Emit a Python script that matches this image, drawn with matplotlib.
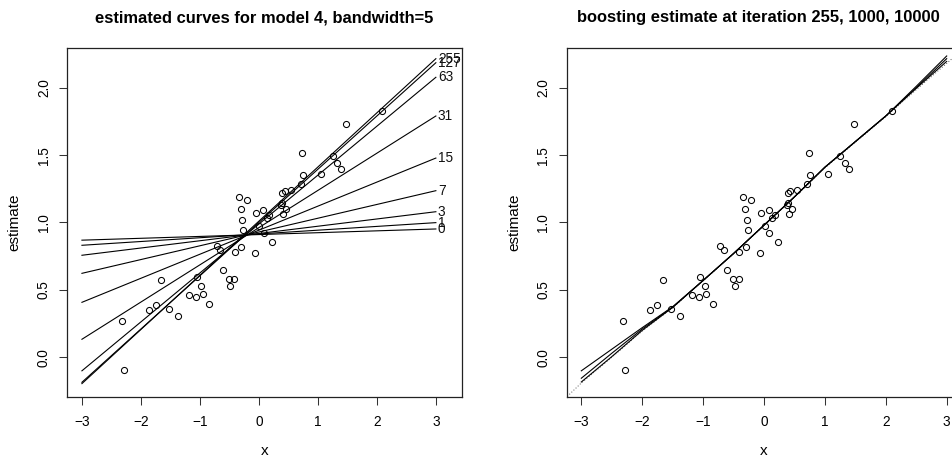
import matplotlib
matplotlib.use("Agg")
import matplotlib.pyplot as plt

plt.rcParams['font.family'] = ['Liberation Sans', 'DejaVu Sans']

# observed data (same in both panels)
x_obs = [-2.323, -2.279, -1.662, -1.865, -1.750, -1.521, -1.373, -1.187, -1.072, -1.046,
         -0.975, -0.947, -0.838, -0.718, -0.658, -0.603, -0.510, -0.417, -0.483, -0.407,
         -0.297, -0.270, -0.286, -0.309, -0.341, -0.210, -0.073, -0.046, 0.009, 0.075,
         0.080, 0.134, 0.173, 0.227, 0.374, 0.396, 0.412, 0.461, 0.396, 0.435,
         0.538, 0.713, 0.735, 0.756, 1.051, 1.248, 1.330, 1.390, 1.472, 2.094]
y_obs = [0.267, -0.094, 0.574, 0.352, 0.386, 0.359, 0.307, 0.465, 0.445, 0.596,
         0.527, 0.472, 0.393, 0.829, 0.794, 0.645, 0.579, 0.579, 0.527, 0.779,
         0.821, 0.942, 1.021, 1.103, 1.187, 1.165, 0.777, 1.068, 0.977, 1.096,
         0.920, 1.036, 1.053, 0.858, 1.128, 1.143, 1.064, 1.103, 1.217, 1.231,
         1.244, 1.284, 1.519, 1.355, 1.358, 1.491, 1.442, 1.395, 1.729, 1.828]

# left panel: linear estimates at selected iterations (values at x=-3 and x=3)
iterations = [0, 1, 3, 7, 15, 31, 63, 127, 255]
line_x = [-3, 3]
est_at_left = [0.869, 0.831, 0.757, 0.623, 0.408, 0.134, -0.100, -0.185, -0.195]
est_at_right = [0.952, 0.999, 1.080, 1.236, 1.478, 1.790, 2.077, 2.185, 2.215]

# right panel: boosting estimates at iterations 255, 1000, 10000
curve_x = [-3, -2.5, -2, -1.5, -1, -0.5, 0, 0.5, 1, 1.5, 2, 2.5, 3]
est_255 = [-0.100, 0.060, 0.220, 0.375, 0.570, 0.770, 0.980, 1.190, 1.410, 1.600, 1.790, 2.010, 2.235]
est_1000 = [-0.155, 0.030, 0.210, 0.372, 0.570, 0.770, 0.980, 1.190, 1.410, 1.600, 1.790, 2.000, 2.215]
est_10000 = [-0.183, 0.005, 0.200, 0.370, 0.570, 0.770, 0.980, 1.190, 1.410, 1.600, 1.790, 1.995, 2.195]
# dotted reference curve
true_x = [-3.3, -3, -2.5, -2, -1.5, -1, -0.5, 0, 0.5, 1, 1.5, 2, 2.5, 3, 3.3]
true_y = [-0.320, -0.190, 0.000, 0.195, 0.368, 0.568, 0.768, 0.978, 1.188, 1.405, 1.595, 1.785, 1.985, 2.180, 2.300]

yticks = [0.0, 0.5, 1.0, 1.5, 2.0]
xticks = [-3, -2, -1, 0, 1, 2, 3]

W, H = 953, 457
fig = plt.figure(figsize=(W / 100, H / 100), dpi=100)

FS = 9.8
LFS = 11.0
TFS = 11.9

def px_axes(x0, x1, y0, y1):
    return fig.add_axes([x0 / W, 1 - y1 / H, (x1 - x0) / W, (y1 - y0) / H])

def style(ax, xlim):
    ax.set_xlim(*xlim)
    ax.set_ylim(-0.292, 2.292)
    ax.set_xticks(xticks)
    ax.set_xticklabels([("\u2212%d" % -t) if t < 0 else str(t) for t in xticks], fontsize=FS)
    ax.set_yticks(yticks)
    ax.set_yticklabels(["%.1f" % t for t in yticks], fontsize=FS, rotation=90, va='center')
    ax.tick_params(direction='out', length=5.8, width=0.75, color='#333333')
    ax.tick_params(axis='x', pad=7.5)
    ax.tick_params(axis='y', pad=6)
    for s in ax.spines.values():
        s.set_linewidth(0.9)
        s.set_color('#222222')
    ax.set_xlabel('x', fontsize=LFS, labelpad=11)
    ax.set_ylabel('estimate', fontsize=LFS, labelpad=11)

# left panel
ax1 = px_axes(67.3, 462.3, 48.3, 396.7)
for it, yl, yr in zip(iterations, est_at_left, est_at_right):
    ax1.plot(line_x, [yl, yr], color='black', lw=0.8)
    ax1.annotate(str(it), xy=(line_x[1], yr), xytext=(1.5, 0), textcoords='offset points',
                 ha='left', va='center', fontsize=FS, color='#111111')
ax1.plot(x_obs, y_obs, linestyle='none', marker='o', markersize=4.4,
         markerfacecolor='none', markeredgecolor='black', markeredgewidth=0.75)
style(ax1, (-3.248, 3.448))

# right panel (extends beyond the right edge of the image)
ax2 = px_axes(566.7, 961.3, 48.3, 396.7)
ax2.plot(true_x, true_y, color='#555555', lw=0.7, linestyle=(0, (1, 2)))
for ys in (est_255, est_1000, est_10000):
    ax2.plot(curve_x, ys, color='black', lw=0.8)
ax2.plot(x_obs, y_obs, linestyle='none', marker='o', markersize=4.4,
         markerfacecolor='none', markeredgecolor='black', markeredgewidth=0.75)
style(ax2, (-3.24, 3.24))

fig.text(264.5 / W, 1 - 22.3 / H, 'estimated curves for model 4, bandwidth=5',
         ha='center', va='baseline', fontsize=TFS, fontweight='bold')
fig.text(758.8 / W, 1 - 22.3 / H, 'boosting estimate at iteration 255, 1000, 10000',
         ha='center', va='baseline', fontsize=TFS, fontweight='bold')

fig.savefig('out.png', dpi=100)
